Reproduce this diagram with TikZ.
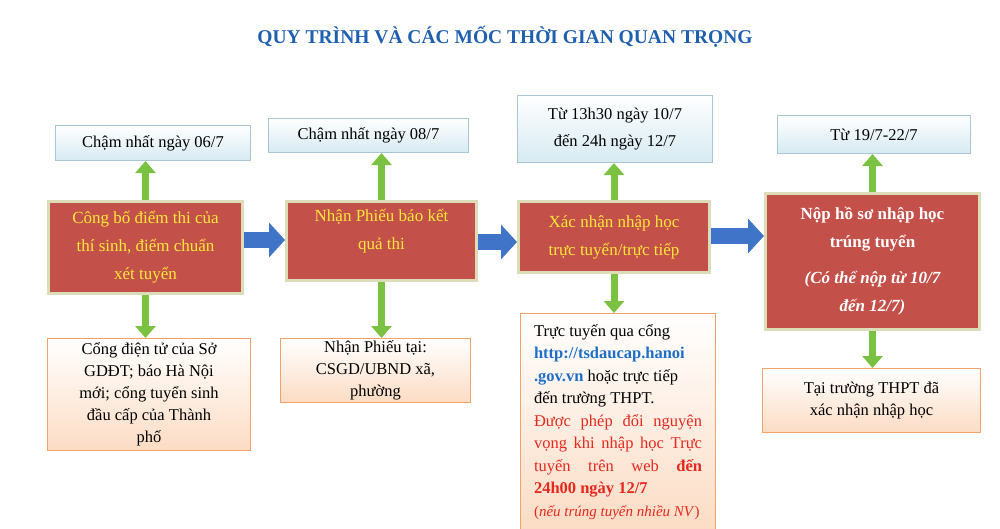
\documentclass[tikz,border=0pt]{standalone}
\usepackage{fontspec}
\setmainfont{Liberation Serif}
\usetikzlibrary{arrows.meta}
\definecolor{ttl}{HTML}{1F5FB0}
\definecolor{redf}{HTML}{C4504A}
\definecolor{redb}{HTML}{DCDCB8}
\definecolor{ylw}{HTML}{FFE838}
\definecolor{bluef}{HTML}{D6EAF2}
\definecolor{blueb}{HTML}{A9C6D6}
\definecolor{peach}{HTML}{FCDCC4}
\definecolor{peachb}{HTML}{F2A36A}
\definecolor{grn}{HTML}{7CC242}
\definecolor{barr}{HTML}{3F74C8}
\definecolor{url}{HTML}{1F6FC8}
\definecolor{rtxt}{HTML}{E8281E}
\begin{document}
\begin{tikzpicture}[x=1pt,y=-1pt,
  box/.style args={#1x#2}{anchor=north west,minimum width=#1pt,minimum height=#2pt,inner sep=2pt,align=center},
  topbox/.style={draw=blueb,line width=1pt,top color=white,bottom color=bluef,font=\fontsize{16.5}{22}\selectfont},
  redbox/.style={draw=redb,line width=3pt,fill=redf,text=ylw,font=\fontsize{17}{28}\selectfont},
  botbox/.style={draw=peachb,line width=1pt,top color=white,bottom color=peach,font=\fontsize{16.5}{22}\selectfont},
  garrow/.style={draw=grn,line width=7pt,-{Triangle[length=12pt,width=20pt]}},
  barrow/.style={draw=barr,line width=16pt,-{Triangle[length=16pt,width=34pt]}}]
\useasboundingbox (0,0) rectangle (1000,528);
\node[font=\bfseries\fontsize{19.5}{22}\selectfont,text=ttl] (title) at (505,37) {QUY TRÌNH VÀ CÁC MỐC THỜI GIAN QUAN TRỌNG};
% top boxes
\node[topbox,box=195x35] (t1) at (55,125) {Chậm nhất ngày 06/7};
\node[topbox,box=200x34] (t2) at (268,118) {Chậm nhất ngày 08/7};
\node[topbox,box=195x67,font=\fontsize{16.5}{27}\selectfont] (t3) at (517,95) {Từ 13h30 ngày 10/7\\đến 24h ngày 12/7};
\node[topbox,box=193x38] (t4) at (777,115) {Từ 19/7-22/7};
% red boxes
\node[redbox,box=194x92] (r1) at (47,200) {Công bố điểm thi của\\thí sinh, điểm chuẩn\\xét tuyển};
\node[redbox,box=190x79] (r2) at (285,200) {Nhận Phiếu báo kết\\quả thi\\[-4pt]};
\node[redbox,box=191x71] (r3) at (517,200) {Xác nhận nhập học\\trực tuyến/trực tiếp};
\node[redbox,box=214x136,text=white,font=\bfseries\fontsize{17}{28}\selectfont] (r4) at (764,192) {Nộp hồ sơ nhập học\\trúng tuyển\\[8pt]{\itshape (Có thể nộp từ 10/7}\\{\itshape đến 12/7)}};
% bottom boxes
\node[botbox,box=203x112] (b1) at (47,338) {Cổng điện tử của Sở\\GDĐT; báo Hà Nội\\mới; cổng tuyển sinh\\đầu cấp của Thành\\phố};
\node[botbox,box=190x60] (b2) at (280,338) {Nhận Phiếu tại:\\CSGD/UBND xã,\\phường};
\node[botbox,box=195x212,align=justify,text width=168pt,inner sep=11pt,font=\fontsize{16.5}{22.5}\selectfont] (b3) at (520,313) {Trực tuyến qua cổng\\{\bfseries\color{url}http://tsdaucap.hanoi}\\{\bfseries\color{url}.gov.vn} hoặc trực tiếp\\đến trường THPT.\\{\color{rtxt}Được phép đổi nguyện vọng khi nhập học Trực tuyến trên web \textbf{đến 24h00 ngày 12/7}}\\{\fontsize{15}{20}\selectfont\color{rtxt}(\textit{nếu trúng tuyển nhiều NV})}};
\node[botbox,box=218x64] (b4) at (762,368) {Tại trường THPT đã\\xác nhận nhập học};
% arrows
\foreach \r/\t in {r1/t1,r2/t2,r3/t3,r4/t4}{\draw[garrow] (\r.north) -- (\r.north |- \t.south);}
\foreach \r/\b in {r1/b1,r2/b2,r3/b3,r4/b4}{\draw[garrow] (\r.south) -- (\r.south |- \b.north);}
\draw[barrow] (r1.east |- 0,240) -- (r2.west |- 0,240);
\draw[barrow] (r2.east |- 0,242) -- (r3.west |- 0,242);
\draw[barrow] (r3.east |- 0,236) -- (r4.west |- 0,236);
\end{tikzpicture}
\end{document}
